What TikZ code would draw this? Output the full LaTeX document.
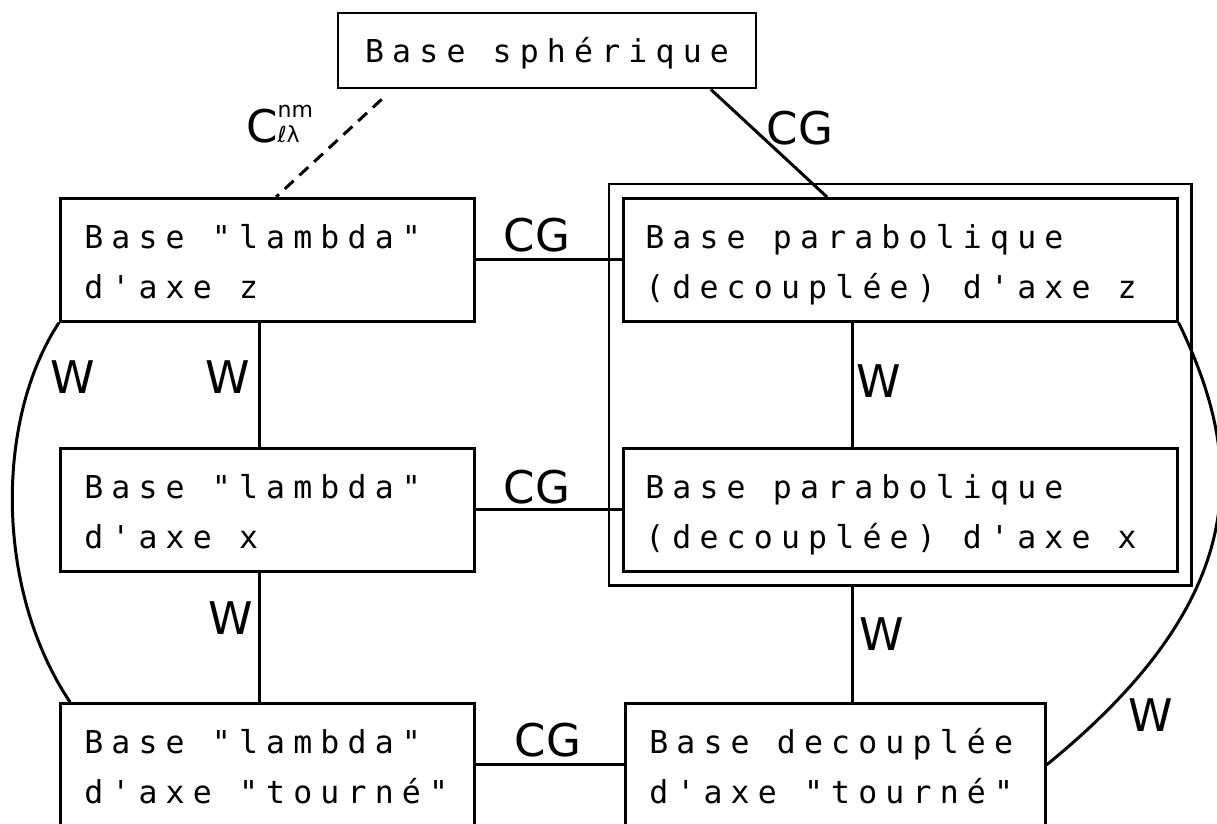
\documentclass[tikz,border=0pt]{standalone}
\usepackage{fontspec}
\usepackage{tikz}
\usetikzlibrary{calc,fit}
\newfontfamily\boxfont[LetterSpace=26]{DejaVu Sans Mono}
\newfontfamily\labelfont{DejaVu Sans}

\begin{document}
\begin{tikzpicture}[x=1pt, y=-1pt,
    basebox/.style={draw, line width=2.6pt, anchor=north west, align=flush left,
      inner xsep=24pt, inner ysep=0pt, text width=#1,
      minimum height=123pt, text height=30pt, text depth=53pt,
      font=\boxfont\fontsize{31.5}{50}\selectfont,
      execute at begin node={\spaceskip=\fontdimen2\font\relax}},
    link/.style={line width=3pt},
    lab/.style={inner sep=0pt, font=\labelfont\fontsize{45}{45}\selectfont}]
            \useasboundingbox (0,0) rectangle (1217,823);

            % Spherical basis on top
            \node[draw, line width=2.6pt, minimum width=418pt, minimum height=75pt,
              text height=23pt, text depth=0pt,
              font=\boxfont\fontsize{31.5}{50}\selectfont] (sph) at (547,50.5) {Base sphérique};

            % Left column: lambda bases
            \node[basebox=366pt] (L1) at (59,197) {Base "lambda"\\d'axe z};
            \node[basebox=366pt] (L2) at (59,447) {Base "lambda"\\d'axe x};
            \node[basebox=366pt] (L3) at (59,702) {Base "lambda"\\d'axe "tourné"};

            % Right column: parabolic bases, the first two framed together
            \node[basebox=510pt, inner xsep=22pt] (R1) at (622,197) {Base parabolique\\(decouplée) d'axe z};
            \node[basebox=510pt, inner xsep=22pt] (R2) at (622,447) {Base parabolique\\(decouplée) d'axe x};
            \node[draw, line width=2.6pt, fit=(R1)(R2), inner sep=13pt] (par) {};
            \node[basebox=372pt] (R3) at (624,702) {Base decouplée\\d'axe "tourné"};

            % Links from the spherical basis
            \draw[link, dash pattern=on 12pt off 8pt] ($(sph.south west)+(45,10)$) -- ($(L1.north west)+(217,0)$);
            \draw[link] ($(sph.south west)+(374,0)$) -- ($(R1.north west)+(205,0)$);
            \node[lab, anchor=base west] (cnm) at (246,142)
              {C\rlap{\raisebox{25pt}{\fontsize{22}{22}\selectfont nm}}{\fontsize{22}{22}\selectfont ℓλ}};
            \node[lab] (cg0) at (800,128.5) {CG};

            % CG links between the columns
            \draw[link] (L1.east) -- (R1.west);
            \draw[link] (L2.east) -- (R2.west);
            \draw[link] (L3.east) -- (R3.west);
            \node[lab] (cg1) at (537,235) {CG};
            \node[lab] (cg2) at (537,487) {CG};
            \node[lab] (cg3) at (548,740) {CG};

            % W links down each column
            \coordinate (colL) at ($(L1.south west)+(200,0)$);
            \coordinate (colR) at ($(R1.south west)+(230,0)$);
            \draw[link] (colL) -- (colL |- L2.north);
            \draw[link] (colL |- L2.south) -- (colL |- L3.north);
            \draw[link] (colR) -- (colR |- R2.north);
            \draw[link] (colR |- par.south) -- (colR |- R3.north);
            \node[lab] (w2) at (228,377) {W};
            \node[lab] (w3) at (231,618) {W};
            \node[lab] (w4) at (879,381) {W};
            \node[lab] (w5) at (882,634) {W};

            % Curved W links on the outside
            \draw[link] (L1.south west) .. controls (-5,420) and (-5,590) .. ($(L3.north west)+(11,0)$);
            \draw[link] (R1.south east) .. controls (1240,450) and (1262,590) .. (R3.east);
            \node[lab] (w1) at (73,377) {W};
            \node[lab] (w6) at (1151,715) {W};
        \end{tikzpicture}
\end{document}
